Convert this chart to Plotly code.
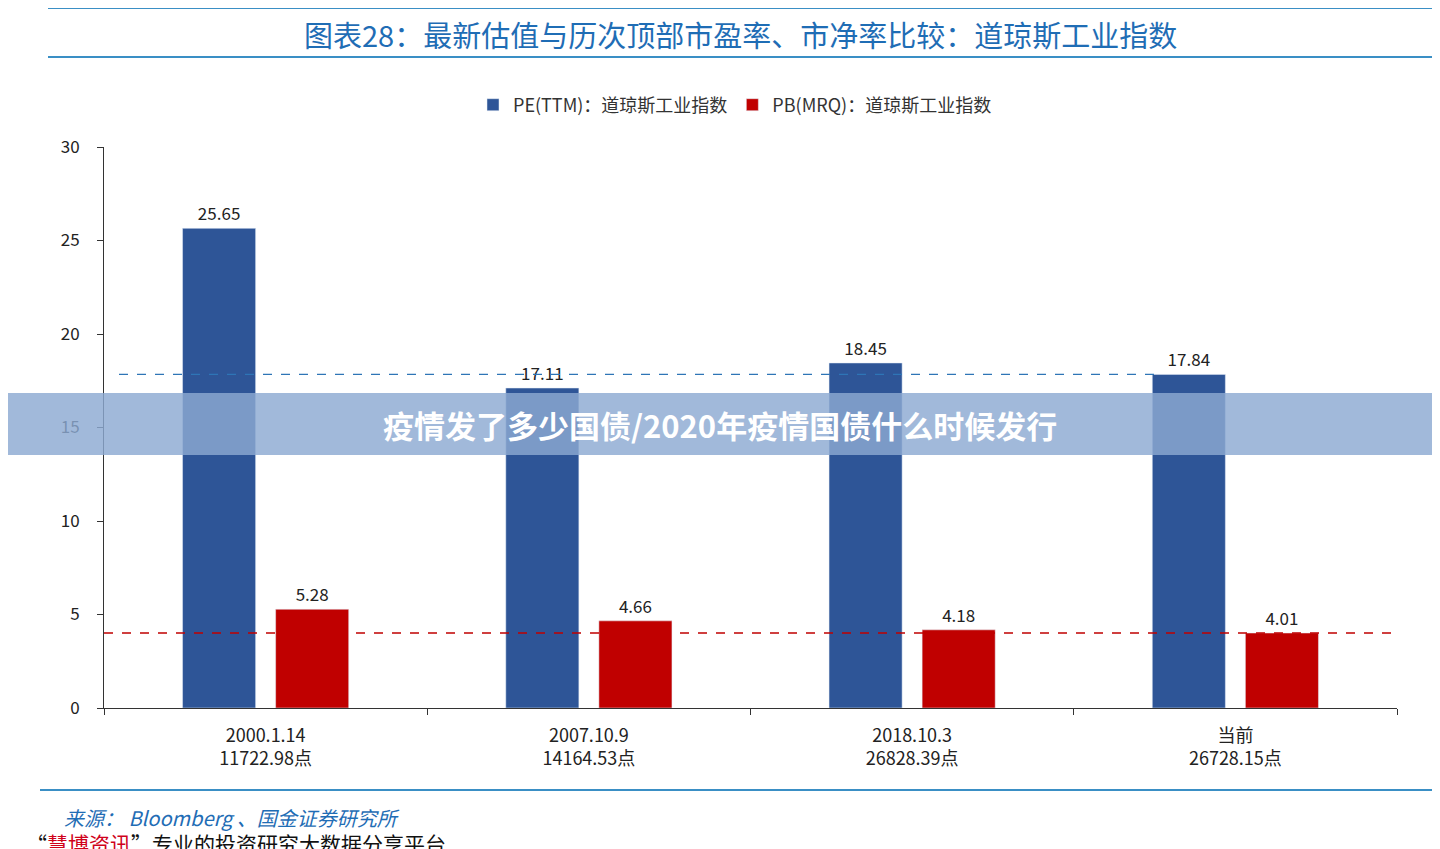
import plotly.graph_objects as go

categories = ["2000.1.14<br>11722.98点", "2007.10.9<br>14164.53点", "2018.10.3<br>26828.39点", "当前<br>26728.15点"]
pe_values = [25.65, 17.11, 18.45, 17.84]
pb_values = [5.28, 4.66, 4.18, 4.01]
y_ticks = [0, 5, 10, 15, 20, 25, 30]

FONT = "Noto Sans CJK SC"
BLUE = "#2e5597"
RED = "#c00000"
OFF = 8  # page body margin

# plot area in screen pixels: left 104, right 1397, top 147, bottom 708
def px(x):
    return (x - 104) / 1293

def py(y):
    return (708 - y) / 561

fig = go.Figure()
fig.add_trace(go.Bar(x=categories, y=pe_values, name="PE(TTM)：道琼斯工业指数",
                     marker_color=BLUE, text=[f"{v:.2f}" for v in pe_values],
                     textposition="outside", textfont=dict(size=17, color="#222"), cliponaxis=False))
fig.add_trace(go.Bar(x=categories, y=pb_values, name="PB(MRQ)：道琼斯工业指数",
                     marker_color=RED, text=[f"{v:.2f}" for v in pb_values],
                     textposition="outside", textfont=dict(size=17, color="#222"), cliponaxis=False))

# reference lines at current values
fig.add_shape(type="line", xref="paper", yref="y", x0=px(119), x1=px(1155),
              y0=pe_values[-1], y1=pe_values[-1], line=dict(color="#2e75b6", width=1.3, dash="dash"))
fig.add_shape(type="line", xref="paper", yref="y", x0=0, x1=1,
              y0=pb_values[-1], y1=pb_values[-1], line=dict(color="#c00000", width=1.3, dash="dash"))

# header / footer rules
for yy in [8, 57]:
    fig.add_shape(type="line", xref="paper", yref="paper", x0=px(48), x1=px(1448),
                  y0=py(yy), y1=py(yy), line=dict(color="#3a8fc5", width=2))
fig.add_shape(type="line", xref="paper", yref="paper", x0=px(40), x1=px(1448),
              y0=py(790), y1=py(790), line=dict(color="#3a8fc5", width=2))

# banner overlay
fig.add_shape(type="rect", xref="paper", yref="paper", x0=px(0), x1=px(1448),
              y0=py(455), y1=py(393), fillcolor="rgba(140,170,210,0.82)", line=dict(width=0), layer="above")

fig.add_annotation(xref="paper", yref="paper", x=px(740), y=py(34), showarrow=False, yanchor="middle",
                   text="图表28：最新估值与历次顶部市盈率、市净率比较：道琼斯工业指数",
                   font=dict(family=FONT, size=29, color="#1f6db5"))
fig.add_annotation(xref="paper", yref="paper", x=px(720), y=py(425), showarrow=False, yanchor="middle",
                   text="<b>疫情发了多少国债/2020年疫情国债什么时候发行</b>",
                   font=dict(family=FONT, size=31, color="white"))
fig.add_annotation(xref="paper", yref="paper", x=px(62), y=py(817), showarrow=False, xanchor="left",
                   yanchor="middle", text="<i>来源： Bloomberg 、国金证券研究所</i>",
                   font=dict(family=FONT, size=20, color="#1f6db5"))
fig.add_annotation(xref="paper", yref="paper", x=px(24), y=py(843), showarrow=False, xanchor="left",
                   yanchor="middle",
                   text="“<span style='color:#d0021b'><u>慧博资讯</u></span>”专业的投资研究大数据分享平台",
                   font=dict(family=FONT, size=21, color="#111"))

fig.update_layout(
    width=1440, height=849,
    margin=dict(l=104 - OFF, r=1440 - 1397 + OFF, t=147 - OFF, b=849 - 708 + OFF),
    paper_bgcolor="white", plot_bgcolor="white",
    font=dict(family=FONT, size=17, color="#222"),
    barmode="group", bargap=0.424, bargroupgap=0.215,
    legend=dict(orientation="h", x=px(735), xanchor="center", y=py(105), yanchor="middle",
                font=dict(size=18, color="#333"), itemwidth=30, traceorder="normal"),
    xaxis=dict(showline=True, linecolor="#333", ticks="outside", tickson="boundaries",
               ticklen=6, tickcolor="#333", tickfont=dict(size=18), ticklabelstandoff=11),
    yaxis=dict(range=[0, 30], tickvals=y_ticks, showline=True, linecolor="#333",
               ticks="outside", ticklen=6, tickcolor="#333", showgrid=False, zeroline=False,
               tickfont=dict(size=17), ticklabelstandoff=14),
)

fig.write_html("out.html")
